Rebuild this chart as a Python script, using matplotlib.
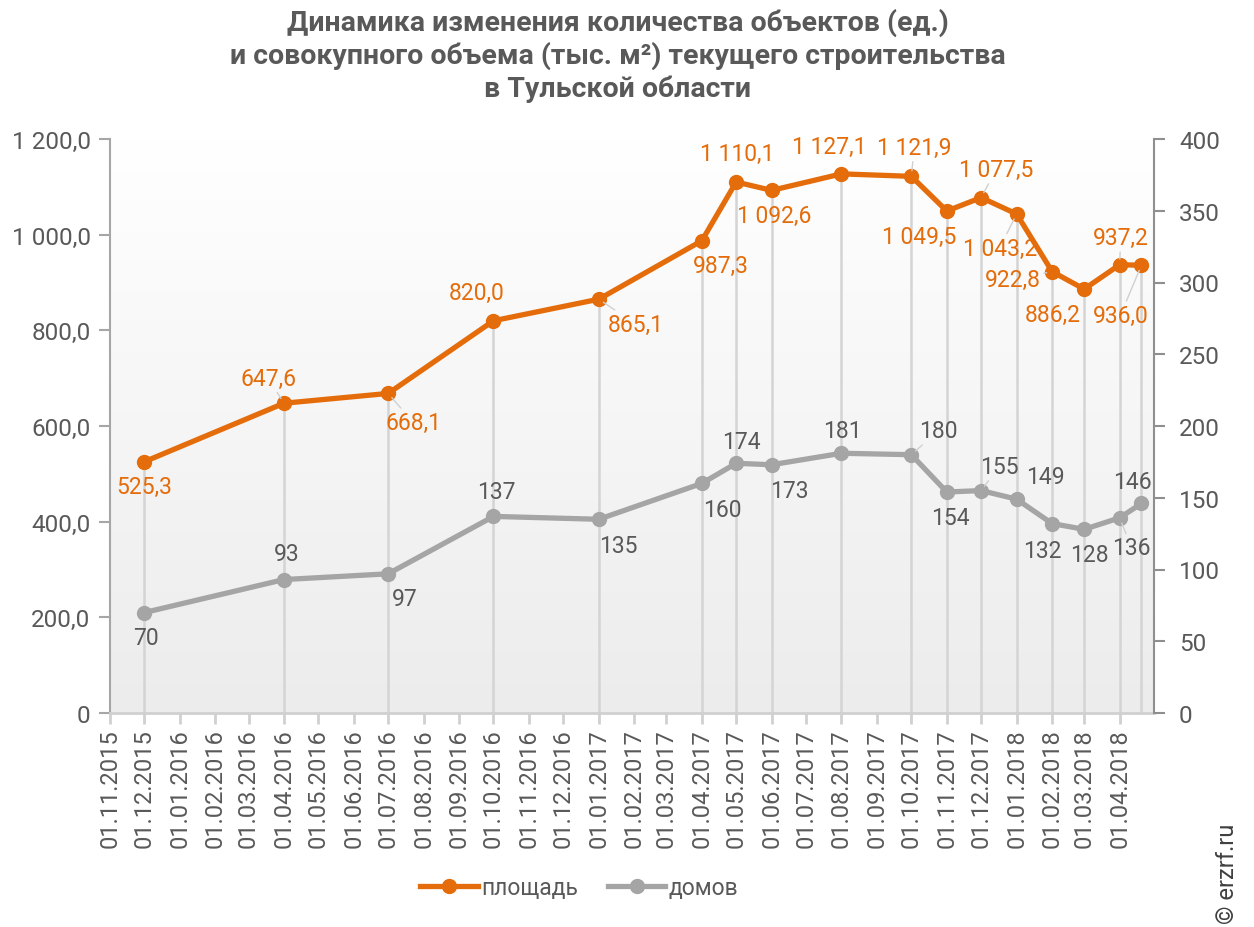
import numpy as np
import pandas as pd
import matplotlib
matplotlib.use("Agg")
import matplotlib.pyplot as plt
import matplotlib.dates as mdates
from matplotlib.colors import LinearSegmentedColormap
from matplotlib.ticker import FuncFormatter, MultipleLocator

plt.rcParams['font.family'] = ['Roboto', 'DejaVu Sans']

# данные
dates = pd.to_datetime([
    "2015-12-01", "2016-04-01", "2016-07-01", "2016-10-01", "2017-01-01",
    "2017-04-01", "2017-05-01", "2017-06-01", "2017-08-01", "2017-10-01",
    "2017-11-01", "2017-12-01", "2018-01-01", "2018-02-01", "2018-03-01",
    "2018-04-01", "2018-04-20",
])
area = [525.3, 647.6, 668.1, 820.0, 865.1, 987.3, 1110.1, 1092.6, 1127.1, 1121.9,
        1049.5, 1077.5, 1043.2, 922.8, 886.2, 937.2, 936.0]
houses = [70, 93, 97, 137, 135, 160, 174, 173, 181, 180,
          154, 155, 149, 132, 128, 136, 146]

title = ("Динамика изменения количества объектов (ед.)\n"
         "и совокупного объема (тыс. м²) текущего строительства\n"
         "в Тульской области")

# смещения подписей (пиксели)
area_off = [(0, -25), (-16, 25), (25, -29), (-17, 28), (37, -25), (19, -25),
            (1, 29), (3, -25), (-12, 27), (3, 29), (-28, -25), (15, 28),
            (-17, -34), (-39, -8), (-31, -25), (1, 27), (-21, -50)]
area_lead = {1, 2, 4, 9, 11, 12, 13, 15, 16}
houses_off = [(2, -25), (3, 26), (17, -25), (3, 25), (20, -26), (20, -26),
              (5, 22), (18, -26), (1, 23), (27, 24), (4, -25), (18, 24),
              (29, 23), (-10, -27), (5, -25), (12, -30), (-9, 22)]
houses_lead = {9, 11, 15}

ORANGE = '#E46C0A'
GRAY = '#A5A5A5'
TXT = '#595959'


def ru_num(v, dec=1):
    s = f"{v:,.{dec}f}".replace(",", " ").replace(".", ",")
    return s


fig = plt.figure(figsize=(12.54, 9.28), dpi=100)
ax = fig.add_axes([110 / 1254, 1 - 714 / 928, 1044 / 1254, 574 / 928])
ax2 = ax.twinx()

# градиентный фон
cmap = LinearSegmentedColormap.from_list('bg', ['#ffffff', '#ececec'])
ax.imshow(np.linspace(0, 1, 256).reshape(-1, 1), cmap=cmap, aspect='auto',
          extent=[0, 1, 0, 1], transform=ax.transAxes, zorder=0)

xmin, xmax = pd.Timestamp("2015-11-01"), pd.Timestamp("2018-05-01")

ax.vlines(dates, 0, area, color='#d4d4d4', lw=1.8, zorder=1)
ax.plot(dates, area, color=ORANGE, lw=3.8, marker='o', ms=10, zorder=3,
        solid_capstyle='round')
ax2.plot(dates, houses, color=GRAY, lw=3.8, marker='o', ms=10, zorder=3,
         solid_capstyle='round')

ax.set_xlim(xmin, xmax)
ax.set_ylim(0, 1200)
ax2.set_ylim(0, 400)

for i, (d, v) in enumerate(zip(dates, area)):
    ap = dict(arrowstyle='-', color='#d0d0d0', lw=1, shrinkA=0, shrinkB=4) if i in area_lead else None
    ax.annotate(ru_num(v), (d, v), xytext=area_off[i], textcoords='offset pixels',
                ha='center', va='center', fontsize=16.5, color=ORANGE,
                arrowprops=ap, zorder=5)
for i, (d, v) in enumerate(zip(dates, houses)):
    ap = dict(arrowstyle='-', color='#d0d0d0', lw=1, shrinkA=0, shrinkB=4) if i in houses_lead else None
    ax2.annotate(str(v), (d, v), xytext=houses_off[i], textcoords='offset pixels',
                 ha='center', va='center', fontsize=16.5, color=TXT,
                 arrowprops=ap, zorder=5)

# оси
ax.xaxis.set_major_locator(matplotlib.ticker.FixedLocator(
    mdates.date2num(pd.date_range("2015-11-01", "2018-04-01", freq='MS'))))
ax.xaxis.set_major_formatter(mdates.DateFormatter('%d.%m.%Y'))
ax.yaxis.set_major_locator(MultipleLocator(200))
ax.yaxis.set_major_formatter(FuncFormatter(lambda v, p: "0" if v == 0 else ru_num(v)))
ax2.yaxis.set_major_locator(MultipleLocator(50))

ax.tick_params(axis='x', direction='out', length=8, width=2, color='#d0d0d0',
               labelsize=17, labelcolor=TXT, labelrotation=90, pad=3)
ax.tick_params(axis='y', direction='out', length=8, width=1.5, color='#a6a6a6',
               labelsize=17.5, labelcolor=TXT, pad=6)
ax2.tick_params(axis='y', direction='out', length=8, width=1.5, color='#8f8f8f',
                labelsize=17.5, labelcolor=TXT, pad=10)

for s in ['top', 'right']:
    ax.spines[s].set_visible(False)
ax.spines['left'].set_color('#a6a6a6')
ax.spines['left'].set_linewidth(1.5)
ax.spines['bottom'].set_color('#d0d0d0')
ax.spines['bottom'].set_linewidth(2)
for s in ['top', 'left', 'bottom']:
    ax2.spines[s].set_visible(False)
ax2.spines['right'].set_color('#8f8f8f')
ax2.spines['right'].set_linewidth(1.5)

fig.text(0.4924, 0.991, title, ha='center', va='top', fontsize=20.5,
         fontweight='bold', color=TXT, linespacing=1.24)

h1, = ax.plot([], [], color=ORANGE, lw=3.8, marker='o', ms=10)
h2, = ax.plot([], [], color=GRAY, lw=3.8, marker='o', ms=10)
fig.legend([h1, h2], ['площадь', 'домов'], loc='center', bbox_to_anchor=(0.462, 0.043),
           ncol=2, frameon=False, fontsize=16.5, handlelength=2.5, columnspacing=1.3,
           handletextpad=0.15, labelcolor=TXT)

fig.text(0.979, 0.004, '© erzrf.ru', rotation=90, ha='center', va='bottom',
         fontsize=17, color='#404040')

fig.savefig('out.png', dpi=100)
